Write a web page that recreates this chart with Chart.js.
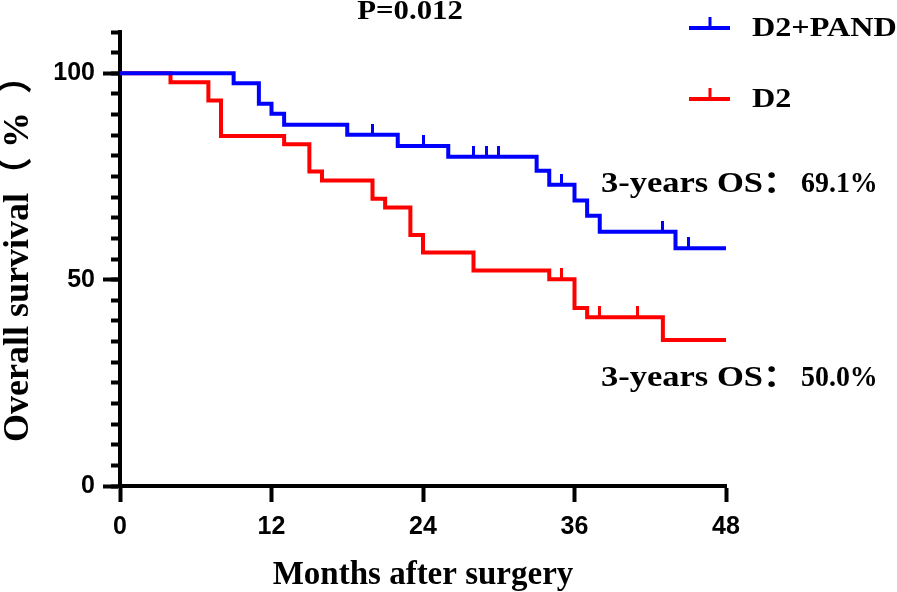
<!DOCTYPE html>
<html>
<head>
<meta charset="utf-8">
<script src="https://cdn.jsdelivr.net/npm/chart.js@4/dist/chart.umd.min.js"></script>
<style>
html,body{margin:0;padding:0;background:#ffffff;}
#wrap{width:897px;height:592px;}
</style>
</head>
<body>
<div id="wrap"><canvas id="c" width="897" height="592"></canvas></div>
<script>
// ---- data ----
const seriesNames = ['D2+PAND', 'D2'];
const pandTimes    = [0, 9, 11, 12, 13, 18, 22, 26, 33, 34, 36, 37, 38, 44, 48];
const pandSurvival = [100, 97.6, 92.6, 90.2, 87.5, 85.1, 82.4, 79.8, 76.4, 73.0, 69.2, 65.5, 61.6, 57.6, 57.6];
const pandCensorTimes    = [20, 24, 28, 29, 30, 35, 43, 45];
const pandCensorSurvival = [85.1, 82.4, 79.8, 79.8, 79.8, 73.0, 61.6, 57.6];

const d2Times    = [0, 4, 7, 8, 13, 15, 16, 20, 21, 23, 24, 28, 34, 36, 37, 43, 48];
const d2Survival = [100, 97.8, 93.4, 84.8, 82.8, 76.2, 74.0, 69.6, 67.5, 60.8, 56.6, 52.2, 50.1, 43.1, 40.9, 35.4, 35.4];
const d2CensorTimes    = [35, 38, 41];
const d2CensorSurvival = [50.1, 40.9, 40.9];

const xTickValues = [0, 12, 24, 36, 48];
const yLabelValues = [0, 50, 100];
const pValueText = 'P=0.012';
const osLabel = '3-years OS：';
const osValues = ['69.1%', '50.0%'];
const xTitle = 'Months after surgery';
const yTitle = '  Overall survival（ %  ）';

// ---- styles ----
const BLUE = '#0000ff', RED = '#ff0000';
const SERIF = "'Liberation Serif','Times New Roman','Noto Sans CJK SC',serif";
const SANS = "'Liberation Sans',Arial,sans-serif";

function toPoints(xs, ys) { return xs.map((x, i) => ({x: x, y: ys[i]})); }
function censorMark(color) {
  const c = document.createElement('canvas');
  c.width = 3; c.height = 22;
  const g = c.getContext('2d');
  g.fillStyle = color;
  g.fillRect(0, 0, 3, 11);
  return c;
}
function stretchedText(ctx, text, x, y, sx, align) {
  ctx.save();
  ctx.translate(x, y);
  ctx.scale(sx, 1);
  ctx.textAlign = align;
  ctx.fillText(text, 0, 0);
  ctx.restore();
}

const textPlugin = {
  id: 'kmText',
  afterDraw(chart) {
    const ctx = chart.ctx;
    ctx.save();
    ctx.fillStyle = '#000';
    ctx.textBaseline = 'middle';
    // p-value
    ctx.font = 'bold 28px ' + SERIF;
    stretchedText(ctx, pValueText, 410, 12, 1.1, 'center');
    // OS annotations
    [184, 378].forEach((y, i) => {
      ctx.font = 'bold 30px ' + SERIF;
      stretchedText(ctx, osLabel, 601, y, 1.15, 'left');
      stretchedText(ctx, osValues[i], 801, y, 0.93, 'left');
    });
    // legend
    const rows = [
      {name: seriesNames[0], color: BLUE, y: 28},
      {name: seriesNames[1], color: RED, y: 99}
    ];
    rows.forEach(r => {
      ctx.fillStyle = r.color;
      ctx.fillRect(689, r.y - 2, 41, 4);
      ctx.fillRect(708.5, r.y - 11, 3, 10);
      ctx.fillStyle = '#000';
      ctx.font = 'bold 28px ' + SERIF;
      stretchedText(ctx, r.name, 752, r.y + 1, 1.15, 'left');
    });
    ctx.restore();
  }
};

new Chart(document.getElementById('c'), {
  type: 'line',
  data: {
    datasets: [
      {label: seriesNames[0] + ' censored', data: toPoints(pandCensorTimes, pandCensorSurvival), showLine: false,
       pointStyle: censorMark(BLUE), pointRadius: 5, pointHoverRadius: 5, order: 0},
      {label: seriesNames[1] + ' censored', data: toPoints(d2CensorTimes, d2CensorSurvival), showLine: false,
       pointStyle: censorMark(RED), pointRadius: 5, pointHoverRadius: 5, order: 1},
      {label: seriesNames[0], data: toPoints(pandTimes, pandSurvival), stepped: 'before',
       borderColor: BLUE, borderWidth: 4, pointRadius: 0, fill: false, order: 2, borderCapStyle: 'butt', borderJoinStyle: 'miter'},
      {label: seriesNames[1], data: toPoints(d2Times, d2Survival), stepped: 'before',
       borderColor: RED, borderWidth: 4, pointRadius: 0, fill: false, order: 3, borderCapStyle: 'butt', borderJoinStyle: 'miter'}
    ]
  },
  options: {
    responsive: false,
    animation: false,
    devicePixelRatio: 1,
    layout: {padding: {left: 0, right: 171, top: 32, bottom: 0}},
    plugins: {legend: {display: false}, tooltip: {enabled: false}, title: {display: false}},
    scales: {
      x: {
        type: 'linear', position: 'bottom', min: 0, max: 48,
        afterBuildTicks: s => { s.ticks = xTickValues.map(v => ({value: v})); },
        ticks: {stepSize: 12, color: '#000', padding: 10, font: {family: SANS, size: 25, weight: 'bold'}, maxRotation: 0},
        grid: {drawOnChartArea: false, drawTicks: true, tickLength: 16, tickWidth: 4, tickColor: '#000'},
        border: {display: true, color: '#000', width: 4},
        title: {display: true, text: xTitle, color: '#000', font: {family: SERIF, size: 33, weight: 'bold', lineHeight: 1}, padding: {top: 0, bottom: 0}},
        afterFit: s => { s.height = 106; }
      },
      y: {
        type: 'linear', position: 'left', weight: 0, min: 0, max: 110,
        ticks: {stepSize: 5, display: false},
        grid: {drawOnChartArea: false, drawTicks: true, tickLength: 9, tickWidth: 4, tickColor: '#000'},
        border: {display: true, color: '#000', width: 4},
        afterFit: s => { s.width = 0; }
      },
      y2: {
        type: 'linear', position: 'left', weight: 1, min: 0, max: 110,
        afterBuildTicks: s => { s.ticks = yLabelValues.map(v => ({value: v})); },
        ticks: {stepSize: 50, includeBounds: false, color: '#000', padding: 8, font: {family: SANS, size: 25, weight: 'bold'}},
        grid: {drawOnChartArea: false, drawTicks: true, tickLength: 17, tickWidth: 4, tickColor: '#000'},
        border: {display: true, color: '#000', width: 4},
        title: {display: true, text: yTitle, color: '#000', font: {family: SERIF, size: 36, weight: 'bold', lineHeight: 1.05}, padding: {top: 0, bottom: 0}},
        afterFit: s => { s.width = 120; }
      }
    }
  },
  plugins: [textPlugin]
});
</script>
</body>
</html>
